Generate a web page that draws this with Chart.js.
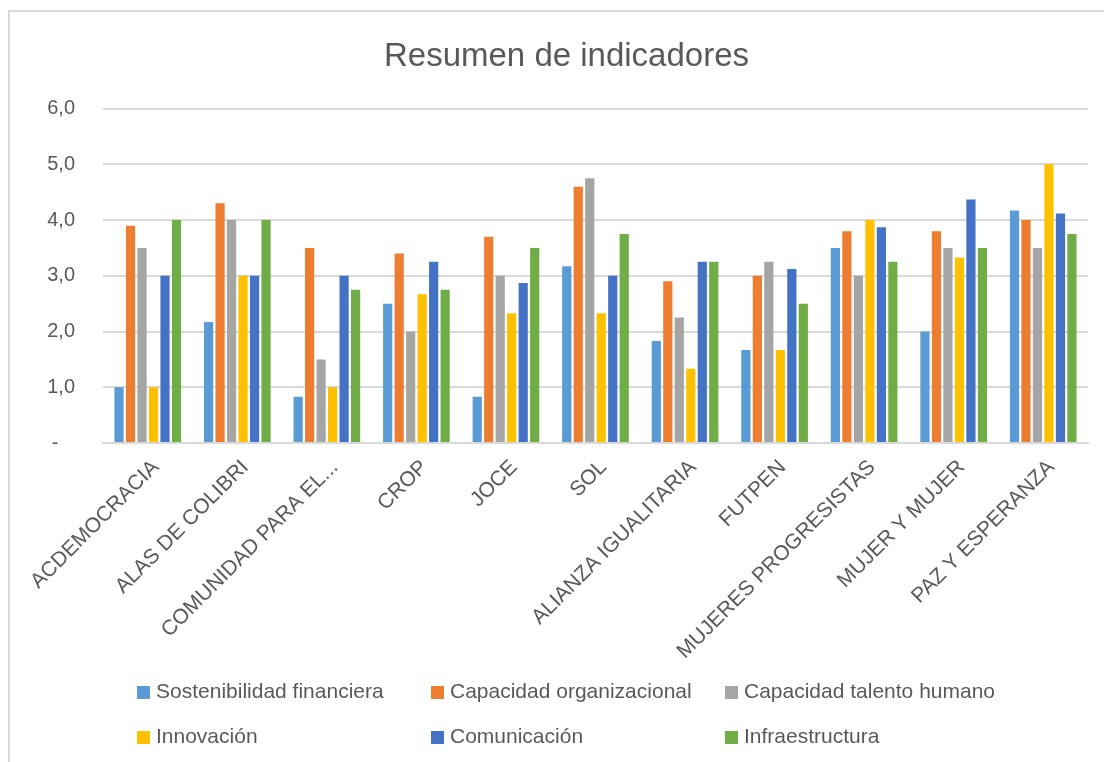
<!DOCTYPE html>
<html>
<head>
<meta charset="utf-8">
<script src="https://cdn.jsdelivr.net/npm/chart.js@4.4.1/dist/chart.umd.min.js"></script>
<style>
	html, body { margin: 0; padding: 0; background: #fff; overflow: hidden; }
	#frame { position: absolute; left: 8px; top: 10px; width: 1200px; height: 800px; border: 2px solid #d9d9d9; box-sizing: border-box; }
	#wrap { position: absolute; left: 0; top: 0; width: 1104px; height: 762px; }
	#legend { position: absolute; left: 0; top: 0; width: 1104px; height: 762px; pointer-events: none;
		font-family: 'Liberation Sans', Arial, sans-serif; font-size: 21px; color: #595959; }
	.item { position: absolute; white-space: nowrap; line-height: 24px; }
	.box { display: inline-block; width: 13px; height: 13px; margin-right: 6px; vertical-align: -1px; }
</style>
</head>
<body>
<div id="frame"></div>
<div id="wrap"><canvas id="chart" width="1104" height="762"></canvas></div>
<div id="legend"></div>
<script>
const categories = ['ACDEMOCRACIA', 'ALAS DE COLIBRI', 'COMUNIDAD PARA EL...', 'CROP', 'JOCE', 'SOL',
	'ALIANZA IGUALITARIA', 'FUTPEN', 'MUJERES PROGRESISTAS', 'MUJER Y MUJER', 'PAZ Y ESPERANZA'];

const sostenibilidad = [1.0, 2.17, 0.83, 2.5, 0.83, 3.17, 1.83, 1.67, 3.5, 2.0, 4.17];
const capOrganizacional = [3.9, 4.3, 3.5, 3.4, 3.7, 4.6, 2.9, 3.0, 3.8, 3.8, 4.0];
const capTalento = [3.5, 4.0, 1.5, 2.0, 3.0, 4.75, 2.25, 3.25, 3.0, 3.5, 3.5];
const innovacion = [1.0, 3.0, 1.0, 2.67, 2.33, 2.33, 1.33, 1.67, 4.0, 3.33, 5.0];
const comunicacion = [3.0, 3.0, 3.0, 3.25, 2.87, 3.0, 3.25, 3.12, 3.87, 4.37, 4.12];
const infraestructura = [4.0, 4.0, 2.75, 2.75, 3.5, 3.75, 3.25, 2.5, 3.25, 3.5, 3.75];

const seriesNames = ['Sostenibilidad financiera', 'Capacidad organizacional', 'Capacidad talento humano',
	'Innovación', 'Comunicación', 'Infraestructura'];
const seriesValues = [sostenibilidad, capOrganizacional, capTalento, innovacion, comunicacion, infraestructura];
const seriesColors = ['#5b9bd5', '#ed7d31', '#a5a5a5', '#ffc000', '#4472c4', '#70ad47'];

const yTicks = [0, 1, 2, 3, 4, 5, 6];

Chart.defaults.font.family = "'Liberation Sans', Arial, sans-serif";
Chart.defaults.color = '#595959';

const datasets = seriesNames.map((name, i) => ({
	label: name,
	data: seriesValues[i],
	backgroundColor: seriesColors[i],
	borderWidth: 0,
	barPercentage: 0.8,
	categoryPercentage: 0.77
}));

const chart = new Chart(document.getElementById('chart'), {
	type: 'bar',
	data: { labels: categories, datasets },
	options: {
		responsive: false,
		animation: false,
		layout: { padding: { left: 45, right: 16, top: 10, bottom: 100 } },
		plugins: {
			legend: { display: false },
			tooltip: { enabled: false },
			title: {
				display: true,
				text: 'Resumen de indicadores',
				color: '#595959',
				font: { size: 33, weight: 'normal' },
				padding: { top: 27, bottom: 32 }
			}
		},
		scales: {
			x: {
				grid: { display: false },
				border: { display: true, color: '#d9d9d9', width: 2 },
				afterFit: s => { s.height = 219; },
				ticks: {
					autoSkip: false,
					minRotation: 45,
					maxRotation: 45,
					padding: 4,
					labelOffset: 8,
					color: '#595959',
					font: { size: 21 }
				}
			},
			y: {
				min: yTicks[0],
				max: yTicks[yTicks.length - 1],
				afterFit: s => { s.width = 58; },
				afterBuildTicks: s => { s.ticks = yTicks.map(v => ({ value: v })); },
				grid: { color: '#d9d9d9', lineWidth: 2, drawTicks: false },
				border: { display: false },
				ticks: {
					padding: 28,
					color: '#595959',
					font: { size: 20 },
					callback: v => v === 0 ? '-   ' : v.toFixed(1).replace('.', ',')
				}
			}
		}
	}
});

// legend laid out in Excel-like columns
const legendCols = [137, 431, 725];
const legendRows = [691, 736];
const legendEl = document.getElementById('legend');
chart.data.datasets.forEach((ds, i) => {
	const el = document.createElement('div');
	el.className = 'item';
	el.style.left = legendCols[i % 3] + 'px';
	el.style.top = (legendRows[Math.floor(i / 3)] - 12) + 'px';
	el.innerHTML = '<span class="box" style="background:' + ds.backgroundColor + '"></span>' + ds.label;
	legendEl.appendChild(el);
});
</script>
</body>
</html>
